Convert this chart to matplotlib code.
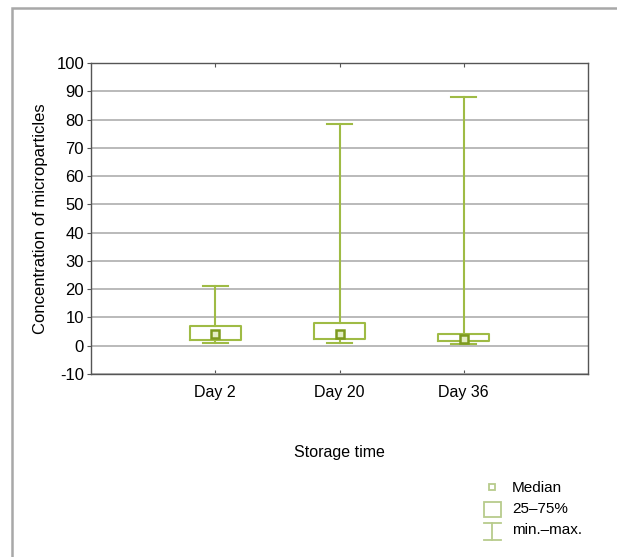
import matplotlib.pyplot as plt
import matplotlib.patches as patches
from matplotlib.lines import Line2D

plt.rcParams['font.family'] = ['Liberation Sans', 'DejaVu Sans']

# values
days = ['Day 2', 'Day 20', 'Day 36']
q1 = [1.9, 2.5, 1.7]
q3 = [7.1, 8.1, 4.2]
medians = [4.0, 4.0, 2.4]
mins = [1.1, 1.1, 0.6]
maxs = [21.3, 78.5, 88.0]
yticks = list(range(-10, 101, 10))

green = '#9fbb45'
dark_green = '#7d9a1e'

fig = plt.figure(figsize=(6.17, 5.57), dpi=100)
ax = fig.add_axes([91 / 617, 1 - 374 / 557, (588 - 91) / 617, (374 - 63) / 557])

positions = list(range(1, len(days) + 1))
stats = []
for i in range(len(days)):
    stats.append({'med': medians[i], 'q1': q1[i], 'q3': q3[i],
                  'whislo': mins[i], 'whishi': maxs[i], 'fliers': []})

ax.bxp(stats, positions=positions, widths=0.41, capwidths=0.2,
       boxprops=dict(color=green, linewidth=1.5),
       whiskerprops=dict(color=green, linewidth=1.5),
       capprops=dict(color=green, linewidth=1.5),
       medianprops=dict(linestyle='none'))
ax.plot(positions, medians, linestyle='none', marker='s', markersize=5.5,
        markerfacecolor='#e4eec4', markeredgecolor=dark_green, markeredgewidth=1.8, zorder=5)

ax.set_xlim(0, 4)
ax.set_ylim(-10, 100)
ax.set_yticks(yticks)
ax.set_yticklabels([str(t) for t in yticks], fontsize=12)
ax.set_xticks(positions)
ax.set_xticklabels(days, fontsize=11.5)
ax.tick_params(axis='x', direction='in', length=3, top=True, pad=8, color='#555555')
ax.tick_params(axis='y', direction='out', length=3, pad=2, color='#555555')
ax.grid(axis='y', color='#b4b4b4', linewidth=1.3)
ax.set_axisbelow(True)
for s in ax.spines.values():
    s.set_color('#555555')
    s.set_linewidth(1.0)

ax.set_xlabel('Storage time', fontsize=11.5, labelpad=32)
ax.set_ylabel('Concentration of microparticles', fontsize=12, labelpad=6)

# outer frame (right and bottom edges run off the picture)
fig.patches.append(patches.Rectangle((12 / 617, -0.1), 1.2, 1 - 8 / 557 + 0.1,
                                     transform=fig.transFigure, fill=False,
                                     edgecolor='#a8a8a8', linewidth=1.8))

# legend drawn as symbols in figure pixels
def px(x, y):
    return x / 617, 1 - y / 557

legend_color = '#b8cb8c'
mx, my = px(492, 487)
fig.add_artist(Line2D([mx], [my], marker='s', markersize=5, markerfacecolor='white',
                      markeredgecolor=legend_color, markeredgewidth=1.3,
                      transform=fig.transFigure))
bx0, by0 = px(484, 517)
fig.add_artist(patches.Rectangle((bx0, by0), 17 / 617, 15 / 557, fill=False,
                                 edgecolor=legend_color, linewidth=1.3,
                                 transform=fig.transFigure))
cx, ctop = px(492, 523)
_, cbot = px(492, 540)
lx0, _ = px(484, 0)
lx1, _ = px(501, 0)
for xs, ys in [([cx, cx], [ctop, cbot]), ([lx0, lx1], [ctop, ctop]), ([lx0, lx1], [cbot, cbot])]:
    fig.add_artist(Line2D(xs, ys, color=legend_color, linewidth=1.3, transform=fig.transFigure))

for label, y in [('Median', 488), ('25–75%', 509), ('min.–max.', 530)]:
    tx, ty = px(512, y)
    fig.text(tx, ty, label, fontsize=11, va='center', ha='left')

fig.savefig('out.png', dpi=100)
